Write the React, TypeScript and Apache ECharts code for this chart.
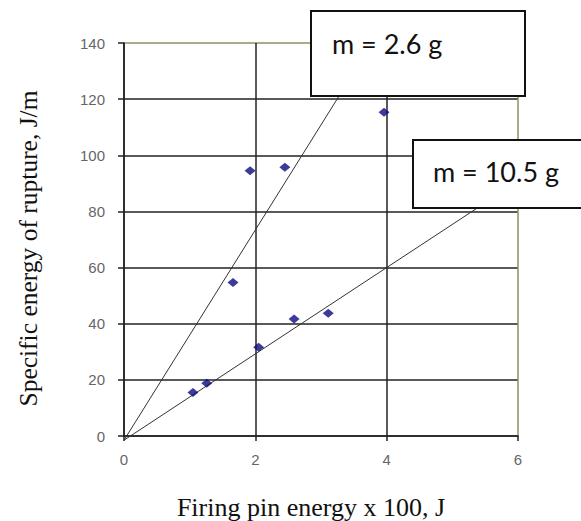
import React, { useEffect, useRef } from "react";
import * as echarts from "echarts";

const xTicks = [0, 2, 4, 6];
const yTicks = [0, 20, 40, 60, 80, 100, 120, 140];
const pointsX = [1.05, 1.26, 1.66, 2.05, 2.59, 3.11, 1.92, 2.45, 3.96];
const pointsY = [15.5, 18.8, 54.7, 31.6, 41.7, 43.7, 94.5, 95.7, 115.3];
const fitLight = [[0, -1.5], [3.4, 125.8]];
const fitHeavy = [[0, -1.5], [5.6, 84.6]];
const labelLight = "m = 2.6 g";
const labelHeavy = "m = 10.5 g";
const xTitle = "Firing pin energy x 100, J";
const yTitle = "Specific energy of rupture, J/m";

const GRID = { left: 124, right: 63, top: 43, bottom: 85 };
const DARK = "#222";
const OLIVE = "#8f8f62";

export default function App() {
  const ref = useRef<HTMLDivElement>(null);
  useEffect(() => {
    if (!ref.current) return;
    const chart = echarts.init(ref.current, undefined, { renderer: "svg" });
    const axisLabel = {
      fontFamily: "Liberation Sans",
      fontSize: 15,
      color: "#666",
    };
    chart.setOption({
      animation: false,
      backgroundColor: "#fff",
      grid: { ...GRID, containLabel: false },
      xAxis: {
        type: "value",
        min: xTicks[0],
        max: xTicks[xTicks.length - 1],
        interval: 2,
        axisLine: { show: true, onZero: false, lineStyle: { color: DARK, width: 1.5 } },
        axisTick: { show: true, length: 5, lineStyle: { color: DARK, width: 1.5 } },
        axisLabel: { ...axisLabel, margin: 16 },
        splitLine: {
          show: true,
          lineStyle: { color: [DARK, DARK, DARK, OLIVE], width: 1.5 },
        },
      },
      yAxis: {
        type: "value",
        min: yTicks[0],
        max: yTicks[yTicks.length - 1],
        interval: 20,
        axisLine: { show: true, onZero: false, lineStyle: { color: DARK, width: 1.5 } },
        axisTick: { show: true, length: 6, lineStyle: { color: DARK, width: 1.5 } },
        axisLabel: { ...axisLabel, margin: 19 },
        splitLine: {
          show: true,
          lineStyle: {
            color: [DARK, DARK, DARK, DARK, DARK, DARK, DARK, OLIVE],
            width: 1.5,
          },
        },
      },
      series: [
        {
          type: "line",
          data: fitLight,
          showSymbol: false,
          clip: false,
          lineStyle: { color: "#333", width: 1 },
          z: 3,
        },
        {
          type: "line",
          data: fitHeavy,
          showSymbol: false,
          clip: false,
          lineStyle: { color: "#333", width: 1 },
          z: 3,
        },
        {
          type: "scatter",
          data: pointsX.map((x, i) => [x, pointsY[i]]),
          symbol: "diamond",
          symbolSize: [11, 9],
          itemStyle: { color: "#0a0a80" },
          z: 4,
        },
      ],
      graphic: [
        {
          type: "text",
          x: 28.5,
          y: 248.5,
          rotation: Math.PI / 2,
          z: 10,
          style: {
            text: yTitle,
            fontFamily: "Liberation Serif",
            fontSize: 25.5,
            fill: "#111",
            align: "center",
            verticalAlign: "middle",
          },
        },
        {
          type: "text",
          x: 311,
          y: 507,
          z: 10,
          style: {
            text: xTitle,
            fontFamily: "Liberation Serif",
            fontSize: 26,
            fill: "#111",
            align: "center",
            verticalAlign: "middle",
          },
        },
        {
          type: "rect",
          z: 20,
          shape: { x: 311, y: 11, width: 214, height: 85 },
          style: { fill: "#fff", stroke: "#111", lineWidth: 2 },
        },
        {
          type: "text",
          x: 332,
          y: 43,
          z: 21,
          style: {
            text: labelLight,
            fontFamily: "Lato",
            fontSize: 27,
            fill: "#111",
            align: "left",
            verticalAlign: "middle",
          },
        },
        {
          type: "rect",
          z: 20,
          shape: { x: 413, y: 140, width: 200, height: 68 },
          style: { fill: "#fff", stroke: "#111", lineWidth: 2 },
        },
        {
          type: "text",
          x: 433,
          y: 171,
          z: 21,
          style: {
            text: labelHeavy,
            fontFamily: "Lato",
            fontSize: 27,
            fill: "#111",
            align: "left",
            verticalAlign: "middle",
          },
        },
      ],
    });
    return () => chart.dispose();
  }, []);
  return (
    <div
      ref={ref}
      style={{ position: "fixed", left: 0, top: 0, width: 581, height: 521 }}
    />
  );
}
